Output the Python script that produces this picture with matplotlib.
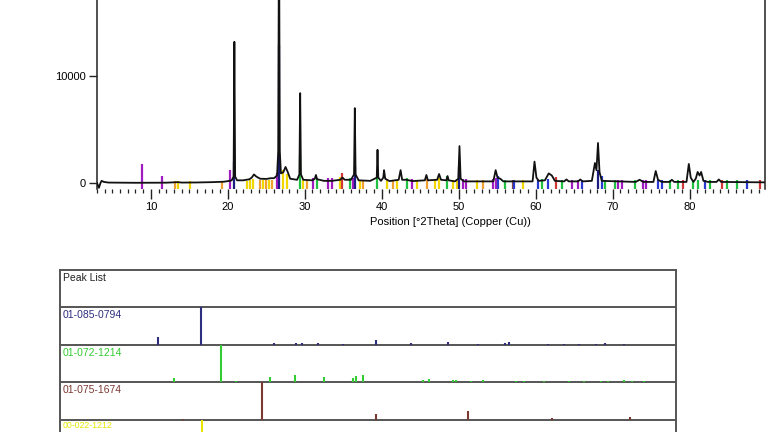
import matplotlib
matplotlib.use("Agg")
import matplotlib.pyplot as plt
from matplotlib.ticker import MultipleLocator, FixedLocator

plt.rcParams['font.family'] = ['Liberation Sans', 'DejaVu Sans']

# ---------------- measured pattern (2theta, counts) ----------------
trace_x = [3.0, 3.25, 3.45, 3.6, 3.9, 4.5, 6, 8, 10, 12, 13.5, 14, 16, 18, 19.5, 20.2, 20.5,
           20.75, 20.85, 20.95, 21.2, 22, 22.8, 23.1, 23.4, 23.7, 24.2, 25, 25.6, 26.0, 26.4,
           26.55, 26.65, 26.75, 26.9, 27.2, 27.5, 27.8, 28.1, 29.0, 29.3, 29.4, 29.5, 29.8,
           31.0, 31.3, 31.45, 31.6, 32.5, 33.5, 34.6, 34.9, 35.2, 36.0, 36.4, 36.5, 36.6, 37.0,
           38.5, 39.35, 39.45, 39.55, 39.9, 40.2, 40.3, 40.45, 41.0, 42.2, 42.45, 42.65, 43.2,
           44, 45.6, 45.8, 46.0, 47.2, 47.45, 47.7, 48.4, 48.55, 48.7, 49.5, 49.95, 50.1, 50.25,
           50.7, 54.5, 54.8, 55.05, 55.4, 55.8, 59.6, 59.85, 60.1, 60.4, 61.2, 61.7, 62.1, 62.5,
           63.7, 64.0, 64.3, 65.5, 65.8, 66.1, 67.3, 67.7, 67.9, 68.1, 68.3, 68.6, 73.0, 73.5,
           74.0, 75.3, 75.6, 75.9, 76.4, 77.4, 77.7, 78.0, 79.6, 79.9, 80.15, 80.5, 80.8, 81.05,
           81.3, 81.5, 81.8, 82.4, 83.5, 83.8, 84.1, 89.8]
trace_y = [0, -450, 0, 200, 100, 40, 30, 20, 20, 30, 80, 40, 50, 80, 120, 200, 250,
           600, 13200, 600, 250, 250, 350, 500, 800, 600, 400, 380, 450, 450, 700,
           3000, 26000, 3000, 900, 1000, 1500, 1000, 400, 300, 800, 8400, 800, 300,
           250, 400, 750, 350, 200, 200, 300, 500, 300, 300, 800, 7000, 800, 250,
           200, 500, 3100, 500, 200, 500, 1200, 400, 180, 300, 1200, 300, 300,
           180, 250, 750, 250, 300, 840, 300, 250, 650, 250, 150, 400, 3450, 400,
           150, 150, 1200, 500, 400, 150, 150, 2000, 500, 200, 250, 900, 700, 200,
           150, 330, 150, 150, 330, 150, 200, 1870, 1200, 3740, 1000, 200, 100, 300,
           100, 100, 1120, 300, 100, 100, 300, 100, 100, 1780, 500, 100, 400, 1030,
           700, 1030, 200, 100, 100, 330, 100, 60]

# ---------------- reference sticks drawn in the top chart ----------------
PURPLE, YELLOW, ORANGE, GREEN, NAVY, BLUE, RED, BROWN = (
    '#a01cc0', '#f2d600', '#f0a030', '#22c040', '#1c1c80', '#2a3ad0', '#d03838', '#8a4a3a')

stick_x = [8.8, 11.5, 13.1, 13.5, 15.1, 19.2, 20.3, 20.85, 22.5, 22.9, 23.3, 24.2, 24.6,
           25.0, 25.4, 25.7, 26.45, 26.65, 27.2, 27.7, 29.4, 29.8, 30.3, 31.1, 31.6, 33.0,
           33.5, 34.6, 34.9, 35.9, 36.3, 36.5, 37.2, 37.5, 39.4, 40.7, 41.4, 42.0, 43.3,
           43.9, 44.6, 45.9, 46.9, 47.5, 48.5, 49.2, 49.8, 50.1, 50.5, 51.0, 52.4, 53.1,
           54.4, 54.9, 55.1, 56.0, 57.0, 57.2, 58.3, 60.3, 60.8, 61.6, 62.7, 63.4, 64.7,
           65.5, 66.0, 68.15, 68.6, 69.0, 70.3, 70.7, 71.2, 72.9, 73.9, 74.4, 75.9, 76.4,
           77.4, 78.5, 79.1, 80.4, 81.1, 82.0, 82.6, 84.2, 84.8, 86.1, 87.4, 89.1]
stick_h = [1780, 650, 200, 200, 200, 150, 1200, 1960, 200, 300, 350, 250, 250,
           250, 250, 300, 900, 12900, 1200, 800, 2600, 300, 300, 500, 450, 450,
           450, 600, 950, 450, 450, 1500, 300, 300, 500, 300, 300, 300, 450,
           350, 300, 350, 400, 500, 700, 300, 400, 1500, 400, 400, 250, 250,
           350, 500, 700, 300, 300, 300, 250, 300, 400, 350, 600, 300, 300,
           300, 300, 1200, 700, 300, 300, 300, 300, 300, 300, 300, 300, 300,
           300, 300, 250, 300, 300, 300, 300, 250, 300, 250, 250, 250]
stick_c = [PURPLE, PURPLE, ORANGE, YELLOW, YELLOW, ORANGE, PURPLE, NAVY, YELLOW, YELLOW, YELLOW, ORANGE, YELLOW,
           ORANGE, YELLOW, ORANGE, PURPLE, NAVY, YELLOW, YELLOW, GREEN, YELLOW, ORANGE, PURPLE, GREEN, PURPLE,
           PURPLE, YELLOW, RED, GREEN, PURPLE, NAVY, YELLOW, ORANGE, GREEN, YELLOW, ORANGE, YELLOW, GREEN,
           PURPLE, YELLOW, ORANGE, YELLOW, YELLOW, GREEN, YELLOW, YELLOW, NAVY, PURPLE, PURPLE, YELLOW, ORANGE,
           PURPLE, PURPLE, BLUE, GREEN, BROWN, BLUE, YELLOW, BLUE, GREEN, BLUE, RED, GREEN, PURPLE,
           PURPLE, BLUE, NAVY, BLUE, GREEN, GREEN, PURPLE, PURPLE, GREEN, PURPLE, PURPLE, BLUE, BLUE,
           GREEN, GREEN, RED, GREEN, GREEN, BLUE, GREEN, RED, GREEN, GREEN, BLUE, RED]

# ---------------- peak list rows (bottom panel) ----------------
row_labels = ['Peak List', '01-085-0794', '01-072-1214', '01-075-1674', '00-022-1212']
row_colors = ['#222222', '#2e2e80', '#33cc33', '#7a3a32', '#e6e600']

ref1_x = [20.85, 26.65, 36.5, 39.5, 40.3, 42.5, 45.8, 50.2, 55.0, 60.0, 64.0, 67.7, 68.2, 73.5, 75.7, 77.7, 80.0, 81.2, 83.8]
ref1_h = [0.20, 1.00, 0.06, 0.05, 0.04, 0.04, 0.03, 0.12, 0.04, 0.08, 0.03, 0.05, 0.07, 0.02, 0.03, 0.02, 0.03, 0.04, 0.02]
ref2_x = [23.0, 29.4, 31.4, 36.0, 39.4, 43.2, 47.1, 47.5, 48.5, 56.6, 57.4, 60.7, 61.0, 63.1, 64.7,
          69.2, 70.3, 73.0, 76.3, 78.3, 80.6, 81.6, 83.8, 84.8, 86.4]
ref2_h = [0.10, 1.00, 0.03, 0.13, 0.20, 0.15, 0.10, 0.17, 0.20, 0.06, 0.08, 0.05, 0.05, 0.03, 0.06,
          0.02, 0.02, 0.02, 0.02, 0.02, 0.03, 0.02, 0.05, 0.03, 0.02]
ref3_x = [24.2, 34.9, 50.3, 62.7, 74.0, 84.5]
ref3_h = [0.02, 1.00, 0.16, 0.24, 0.05, 0.08]
ref4_x = [26.8]
ref4_h = [1.00]

W, H = 768, 432
fig = plt.figure(figsize=(W / 100, H / 100), dpi=100)

# ---------------- top chart ----------------
ax_l, ax_r, ax_t, ax_b = 97, 765, 0, 189
ax = fig.add_axes([ax_l / W, 1 - ax_b / H, (ax_r - ax_l) / W, (ax_b - ax_t) / H])
ymin, ymax = -561, 17110
ax.set_xlim(3, 89.8)
ax.set_ylim(ymin, ymax)

ax.vlines(stick_x, ymin, stick_h, colors=stick_c, linewidth=1.6, zorder=2)
ax.plot(trace_x, trace_y, color='#111111', linewidth=1.3, zorder=3)

for s in ['top', 'bottom']:
    ax.spines[s].set_visible(False)
for s in ['left', 'right']:
    ax.spines[s].set_linewidth(1.1)
    ax.spines[s].set_color('#222222')

ax.xaxis.set_major_locator(MultipleLocator(10))
ax.xaxis.set_minor_locator(MultipleLocator(1))
ax.yaxis.set_major_locator(FixedLocator([0, 10000]))
ax.tick_params(axis='x', which='major', length=7, width=1.0, direction='out', pad=2,
               labelsize=8, color='#222222')
ax.tick_params(axis='x', which='minor', length=3, width=0.9, direction='out', color='#222222')
ax.tick_params(axis='y', which='major', length=6, width=1.0, direction='out', pad=2,
               labelsize=8, color='#222222')
ax.set_xticks([10, 20, 30, 40, 50, 60, 70, 80])
ax.set_xlabel('Position [°2Theta] (Copper (Cu))', fontsize=8, va='center')
ax.xaxis.set_label_coords((450 - ax_l) / (ax_r - ax_l), (ax_b - 222) / (ax_b - ax_t))

# ---------------- bottom peak-list panel ----------------
row_h_px = 37.4
b_l, b_r, b_t = 60, 676, 270
b_b = b_t + row_h_px * len(row_labels)
bx = fig.add_axes([b_l / W, 1 - b_b / H, (b_r - b_l) / W, (b_b - b_t) / H])
n = len(row_labels)
bx.set_xlim(7.62, 90.75)
bx.set_ylim(0, n)
bx.set_xticks([])
bx.set_yticks([])
for s in bx.spines.values():
    s.set_linewidth(1.4)
    s.set_color('#555555')

for i in range(1, n):
    bx.axhline(i, color='#555555', linewidth=1.4, zorder=1)

for i, (lab, col) in enumerate(zip(row_labels, row_colors)):
    top = n - i
    off = 0.08 if i < n - 1 else 0.03
    bx.text(7.62 + 0.35, top - off, lab, color=col, fontsize=7.5 if i < n - 1 else 6.3,
            ha='left', va='top', zorder=4)

refs = [(ref1_x, ref1_h), (ref2_x, ref2_h), (ref3_x, ref3_h), (ref4_x, ref4_h)]
for k, (xs, hs) in enumerate(refs):
    base = n - (k + 2)
    bx.vlines(xs, base, [base + h for h in hs], colors=row_colors[k + 1], linewidth=1.5, zorder=3)

fig.savefig('out.png', dpi=100)
